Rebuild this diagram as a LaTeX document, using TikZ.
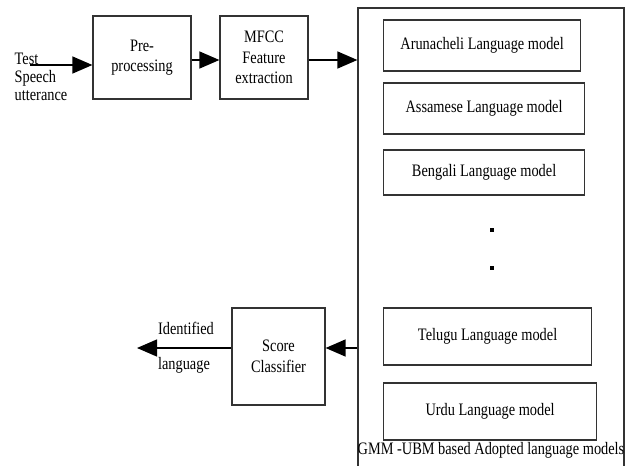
\documentclass[tikz,border=0pt]{standalone}
\usepackage{fontspec}
\setmainfont{Liberation Serif}[FakeStretch=0.82]
\usepackage{tikz}
\usetikzlibrary{positioning,arrows.meta}

\begin{document}
\begin{tikzpicture}[x=1pt, y=-1pt, >={Triangle[length=20pt,width=17pt]},
		font=\fontsize{17.5}{20.5}\selectfont,
		box/.style={draw=black!80, line width=1.2pt, align=center, inner sep=0pt},
		model/.style={box, anchor=west},
		conn/.style={->, line width=1.3pt}]
		\useasboundingbox (0,0) rectangle (635,466);
		
		\node[box, minimum width=98pt, minimum height=83pt] (pre) at (142,57.5) {Pre-\\processing};
		\node[box, minimum width=88pt, minimum height=83pt] (mfcc) at (264,57.5) {MFCC\\Feature\\extraction};
		\node[box, minimum width=266pt, minimum height=462pt] (gmm) at (491,239) {};
		
		\node[model, minimum width=197pt, minimum height=51pt] (aru) at (383,45.5) {Arunacheli Language model};
		\node[model, minimum width=201pt, minimum height=51pt] (ass) at (383,108.5) {Assamese Language model};
		\node[model, minimum width=201pt, minimum height=45pt] (ben) at (383,172.5) {Bengali Language model};
		\node[model, minimum width=208pt, minimum height=57pt] (tel) at (383,336.5) {Telugu Language model};
		\node[model, minimum width=213pt, minimum height=57pt] (urdu) at (383,411.5) {Urdu Language model};
		\node[fill, inner sep=1.8pt] (dot1) at (492,230) {};
		\node[fill, inner sep=1.8pt] (dot2) at (492,268) {};
		\node (gmmlabel) at (491,450) {GMM -UBM based Adopted language models};
		
		\node[box, minimum width=93pt, minimum height=97pt] (score) at (278.5,356.5) {Score\\Classifier};
		
		\node[align=left, inner sep=0pt, font=\fontsize{17.5}{18}\selectfont] (test) at (41,77) {Test\\Speech\\utterance};
		\coordinate (in) at (30,65);
		\coordinate (out) at (137,348);
		\node (ident) at (186,328) {Identified};
		\node (lang) at (184,365) {language};
		
		\draw[conn] (in) -- (in -| pre.west);
		\draw[conn] ([yshift=-2.5pt]pre.east) -- ([yshift=-2.5pt]mfcc.west);
		\draw[conn] ([yshift=-2.5pt]mfcc.east) -- ([yshift=-2.5pt]mfcc.east -| gmm.west);
		\draw[conn] ([yshift=8.5pt]score.east -| gmm.west) -- ([yshift=8.5pt]score.east);
		\draw[conn] ([yshift=8.5pt]score.west) -- (out);
\end{tikzpicture}
\end{document}
